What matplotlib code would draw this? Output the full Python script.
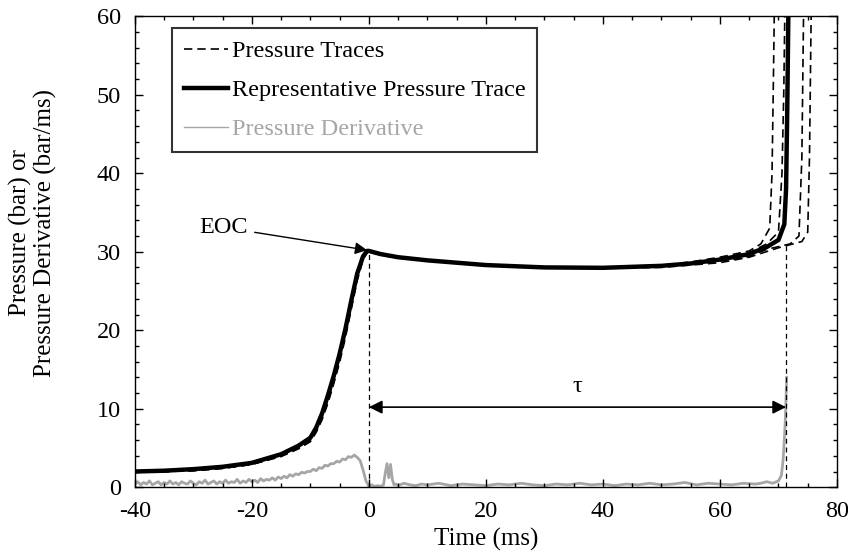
import matplotlib
matplotlib.use("Agg")
import matplotlib.pyplot as plt
from matplotlib.ticker import MultipleLocator

plt.rcParams['font.family'] = ['Liberation Serif', 'DejaVu Serif']
plt.rcParams['font.size'] = 17.5
plt.rcParams['axes.unicode_minus'] = False

# --- data ---
# common times for the compression part (ms)
t_comp = [-40, -35, -30, -25, -20, -15, -12, -10, -9, -8, -7, -6, -5, -4, -3, -2, -1, -0.3,
          0, 2, 5, 10, 20, 30, 40, 50, 55, 60]
# representative trace
rep_comp = [2.0, 2.1, 2.3, 2.6, 3.1, 4.2, 5.3, 6.3, 7.6, 9.4, 11.7, 14.2, 17.0, 20.2, 23.8, 27.2,
            29.4, 30.1, 30.1, 29.7, 29.3, 28.9, 28.3, 28.0, 27.95, 28.2, 28.5, 29.0]
rep_t_end = [65, 68, 70, 71, 71.3, 71.5, 71.7]
rep_p_end = [29.7, 30.6, 31.5, 33.5, 38.0, 48.0, 61.0]

# the other pressure traces (dashed)
traces_comp = [
    [1.9, 2.0, 2.1, 2.4, 2.9, 3.9, 4.9, 5.8, 7.0, 8.6, 10.7, 13.2, 15.9, 19.1, 22.7, 26.3,
     29.0, 29.9, 30.0, 29.7, 29.3, 28.9, 28.3, 28.0, 28.0, 28.3, 28.7, 29.3],
    [2.0, 2.0, 2.2, 2.5, 3.0, 4.1, 5.1, 6.1, 7.3, 9.0, 11.2, 13.7, 16.5, 19.7, 23.3, 26.8,
     29.2, 30.0, 30.0, 29.6, 29.2, 28.9, 28.3, 28.0, 27.95, 28.2, 28.6, 29.1],
    [1.9, 2.0, 2.1, 2.4, 2.9, 4.0, 5.0, 5.9, 7.1, 8.8, 10.9, 13.4, 16.2, 19.4, 23.0, 26.5,
     29.1, 30.0, 30.0, 29.6, 29.2, 28.9, 28.3, 28.0, 27.9, 28.1, 28.4, 28.8],
    [2.0, 2.0, 2.2, 2.5, 3.0, 4.1, 5.2, 6.2, 7.4, 9.2, 11.4, 13.9, 16.7, 19.9, 23.5, 27.0,
     29.3, 30.0, 30.0, 29.6, 29.2, 28.9, 28.3, 28.0, 27.9, 28.0, 28.3, 28.6],
]
traces_t_end = [
    [65, 67, 68.5, 68.9, 69.1, 69.3],
    [65, 68, 70, 70.6, 70.9, 71.1],
    [65, 68, 72, 73.5, 74.0, 74.3],
    [65, 70, 74, 75.0, 75.3, 75.6],
]
traces_p_end = [
    [30.1, 31.0, 33.0, 40.0, 50.0, 61.0],
    [29.9, 31.0, 32.5, 40.0, 50.0, 61.0],
    [29.4, 30.3, 31.0, 32.0, 42.0, 61.0],
    [29.3, 30.5, 31.3, 32.5, 42.0, 61.0],
]

# pressure derivative (bar/ms), in segments
t_d_quiet = [-40, -39.5, -39, -38.5, -38, -37.5, -37, -36.5, -36, -35.5,
             -35, -34.5, -34, -33.5, -33, -32.5, -32, -31.5, -31, -30.5,
             -30, -29.5, -29, -28.5, -28, -27.5, -27, -26.5, -26, -25.5,
             -25, -24.5, -24, -23.5, -23, -22.5, -22, -21.5, -21, -20.5]
d_quiet = [0.4, 0.7, 0.3, 0.6, 0.4, 0.8, 0.3, 0.5, 0.7, 0.3,
           0.6, 0.4, 0.8, 0.4, 0.6, 0.3, 0.7, 0.5, 0.4, 0.8,
           0.5, 0.3, 0.7, 0.5, 0.9, 0.4, 0.6, 0.8, 0.4, 0.7,
           0.5, 0.9, 0.5, 0.7, 0.6, 1.0, 0.5, 0.8, 0.6, 1.0]
t_d_rise = [-20, -19.5, -19, -18.5, -18, -17.5, -17, -16.5, -16, -15.5,
            -15, -14.5, -14, -13.5, -13, -12.5, -12, -11.5, -11, -10.5,
            -10, -9.5, -9, -8.5, -8, -7.5, -7, -6.5, -6, -5.5,
            -5, -4.5, -4, -3.5, -3, -2.5, -2, -1.5, -1, -0.5]
d_rise = [0.7, 0.9, 0.6, 1.1, 0.8, 1.0, 0.9, 1.2, 0.9, 1.3,
          1.1, 1.4, 1.2, 1.6, 1.4, 1.7, 1.6, 1.9, 1.8, 2.0,
          2.0, 2.3, 2.1, 2.5, 2.4, 2.8, 2.7, 3.0, 3.0, 3.3,
          3.2, 3.6, 3.5, 3.9, 3.8, 4.1, 3.8, 3.4, 2.2, 0.8]
t_d_eoc = [0, 0.5, 1, 1.5, 2, 2.5, 2.8, 3.1, 3.4, 3.7, 4.0, 4.3, 4.6]
d_eoc = [0.1, 0.3, 0.1, 0.2, 0.1, 0.3, 1.8, 3.0, 1.2, 2.9, 1.0, 0.3, 0.4]
t_d_delay = [5, 6, 7, 8, 9, 10, 12, 14, 16, 18,
             20, 22, 24, 26, 28, 30, 32, 34, 36, 38,
             40, 42, 44, 46, 48, 50, 52, 54, 56, 58,
             60, 62, 64, 66, 67, 68, 69, 70]
d_delay = [0.2, 0.5, 0.3, 0.2, 0.4, 0.3, 0.5, 0.2, 0.4, 0.3,
           0.2, 0.4, 0.3, 0.5, 0.3, 0.2, 0.4, 0.3, 0.5, 0.3,
           0.4, 0.2, 0.4, 0.3, 0.5, 0.3, 0.4, 0.6, 0.3, 0.5,
           0.4, 0.3, 0.5, 0.4, 0.5, 0.7, 0.5, 0.8]
t_d_ign = [70.5, 70.8, 71.0, 71.2, 71.4]
d_ign = [1.5, 3.5, 6.0, 9.0, 14.0]

eoc_time = 0.0
ign_time = 71.3
tau_level = 10.2

fig = plt.figure(figsize=(8.48, 5.6), dpi=100)
ax = fig.add_axes([0.159, 0.130, 0.828, 0.841])

# pressure derivative
t_deriv = t_d_quiet + t_d_rise + t_d_eoc + t_d_delay + t_d_ign
deriv = d_quiet + d_rise + d_eoc + d_delay + d_ign
ax.plot(t_deriv, deriv, color='#a6a6a6', lw=2.0, zorder=1)

# pressure traces (dashed)
for pc, te, pe in zip(traces_comp, traces_t_end, traces_p_end):
    ax.plot(t_comp + te, pc + pe, color='k', lw=1.2, ls=(0, (5, 3)), zorder=2)

# representative trace
ax.plot(t_comp + rep_t_end, rep_comp + rep_p_end, color='k', lw=3.2, zorder=3)

# legend proxies
ax.plot([], [], color='k', lw=1.2, ls=(0, (5, 3)), label='Pressure Traces')
ax.plot([], [], color='k', lw=3.2, label='Representative Pressure Trace')
ax.plot([], [], color='#a6a6a6', lw=1.0, label='Pressure Derivative')

# EOC and ignition markers
ax.plot([eoc_time, eoc_time], [0, 30.0], color='k', lw=0.9, ls=(0, (4, 3)), zorder=4)
ax.plot([ign_time, ign_time], [0, 31.2], color='k', lw=0.9, ls=(0, (4, 3)), zorder=4)

ax.annotate('', xy=(ign_time, tau_level), xytext=(eoc_time, tau_level),
            arrowprops=dict(arrowstyle='<|-|>', color='k', lw=1.2,
                            mutation_scale=20, shrinkA=0, shrinkB=0))
ax.text(ign_time / 2, 11.5, 'τ', ha='center', va='bottom', fontsize=17.5)

ax.annotate('EOC', xy=(-0.3, 30.2), xytext=(-20.7, 33.1),
            ha='right', va='center', fontsize=17.5,
            arrowprops=dict(arrowstyle='-|>', color='k', lw=1.0,
                            mutation_scale=18, shrinkA=3, shrinkB=0))

ax.set_xlim(-40, 80)
ax.set_ylim(0, 60)
ax.xaxis.set_major_locator(MultipleLocator(20))
ax.xaxis.set_minor_locator(MultipleLocator(5))
ax.yaxis.set_major_locator(MultipleLocator(10))
ax.yaxis.set_minor_locator(MultipleLocator(2))
ax.tick_params(which='both', direction='in', top=True, right=True, labelsize=17.5, width=1.0)
ax.tick_params(which='major', length=6)
ax.tick_params(which='minor', length=3)
ax.tick_params(axis='x', which='major', pad=10)
ax.tick_params(axis='y', which='major', pad=10)
for s in ax.spines.values():
    s.set_linewidth(1.0)

ax.set_xlabel('Time (ms)', fontsize=18)
ax.set_ylabel('Pressure (bar) or\nPressure Derivative (bar/ms)', fontsize=18, linespacing=1.1)
ax.yaxis.set_label_coords(-0.111, 0.54)

leg = ax.legend(loc='upper left', bbox_to_anchor=(0.053, 0.975), borderaxespad=0,
                fontsize=17.5, handlelength=1.8, handletextpad=0.15, labelspacing=0.7,
                frameon=True, fancybox=False, edgecolor='k', borderpad=0.5)
leg.get_frame().set_linewidth(1.5)
leg.get_texts()[2].set_color('#a6a6a6')

fig.savefig('out.png', dpi=100)
